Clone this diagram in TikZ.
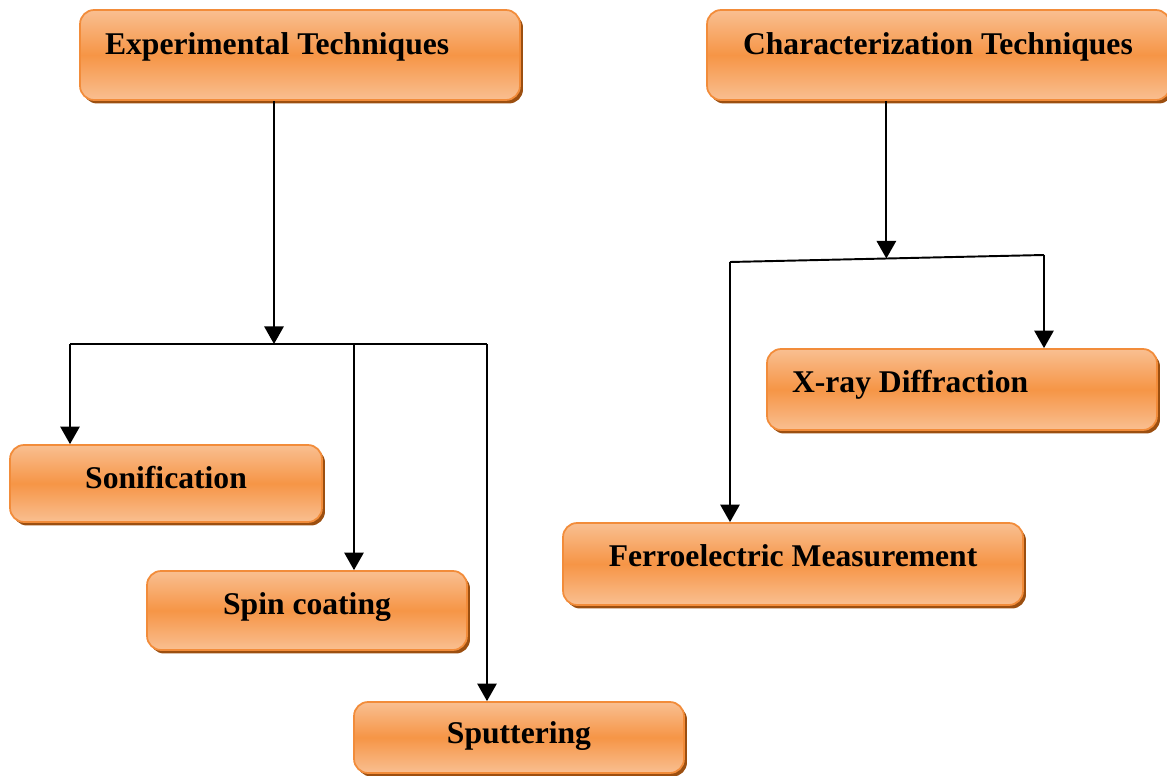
\documentclass[tikz,border=0pt]{standalone}
\usepackage{fontspec}
\setmainfont{Liberation Serif}
\usetikzlibrary{arrows.meta,shadows,calc}

\definecolor{boxlight}{HTML}{F9BF91}
\definecolor{boxmid}{HTML}{F69546}
\definecolor{boxline}{HTML}{F28C3A}
\definecolor{boxshade}{HTML}{9C4F10}

\begin{document}
\begin{tikzpicture}[x=0.02cm,y=-0.02cm]
				\tikzstyle{box}=[draw=boxline,line width=1pt,rounded corners=8pt,
				top color=boxlight,bottom color=boxlight,middle color=boxmid,
				drop shadow={shadow xshift=0.06cm,shadow yshift=-0.07cm,fill=boxshade,opacity=1},
				font=\bfseries\fontsize{18}{21}\selectfont,inner sep=0pt,text depth=0.3cm]
				\tikzstyle{leftbox}=[box,align=flush left,execute at begin node={\hspace*{#1}}]
				\tikzstyle{arr}=[line width=1.1pt,-{Triangle[width=11pt,length=10pt]}]
				\tikzstyle{bar}=[line width=1.1pt]
				\useasboundingbox (0,0) rectangle (1167,776);
				% boxes
				\node[leftbox=0.5cm,minimum width=8.8cm,minimum height=1.8cm,text height=0.28cm,
				text width=8.8cm] (exp) at (300,55) {Experimental Techniques};
				\node[leftbox=0.72cm,minimum width=9.26cm,minimum height=1.8cm,text height=0.28cm,
				text width=9.26cm] (char) at (938.5,55) {Characterization Techniques};
				\node[box,minimum width=6.24cm,minimum height=1.54cm,text height=0.52cm] (sonif) at (166,483.5) {Sonification};
				\node[box,minimum width=6.4cm,minimum height=1.58cm,text height=0.48cm] (spin) at (307,610.5) {Spin coating};
				\node[box,minimum width=6.6cm,minimum height=1.42cm,text height=0.56cm] (sputter) at (519,737.5) {Sputtering};
				\node[leftbox=0.5cm,minimum width=7.8cm,minimum height=1.62cm,text height=0.44cm,
				text width=7.8cm] (xrd) at (962,389.5) {X-ray Diffraction};
				\node[box,minimum width=9.2cm,minimum height=1.64cm,text height=0.42cm] (ferro) at (793,564) {Ferroelectric Measurement};
				% left tree
				\coordinate (expmid) at (274,344);
				\coordinate (expl) at (70,344);
				\coordinate (expspin) at (354,344);
				\coordinate (expr) at (487,344);
				\draw[arr] (exp.south -| expmid) -- (expmid);
				\draw[bar] (expl) -- (expr);
				\draw[arr] (expl) -- (sonif.north -| expl);
				\draw[arr] (expspin) -- (spin.north -| expspin);
				\draw[arr] (expr) -- (sputter.north -| expr);
				% right tree
				\coordinate (charl) at (730,262);
				\coordinate (charr) at (1044,255);
				\coordinate (charmid) at ($(charl)!0.498!(charr)$);
				\draw[arr] (char.south -| charmid) -- (charmid);
				\draw[bar] (charl) -- (charr);
				\draw[arr] (charr) -- (xrd.north -| charr);
				\draw[arr] (charl) -- (ferro.north -| charl);
\end{tikzpicture}
\end{document}
